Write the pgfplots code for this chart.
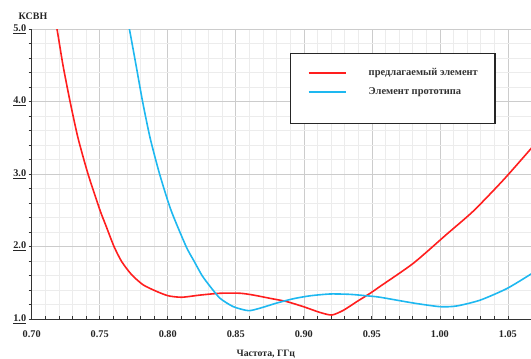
\documentclass[border=0pt]{standalone}
\usepackage{fontspec}
\setmainfont{Liberation Serif}
\usepackage{pgfplots}
\pgfplotsset{compat=1.18}
\definecolor{cred}{HTML}{FF1E1E}
\definecolor{cblue}{HTML}{1EB8F0}
\begin{document}
\begin{tikzpicture}
\begin{axis}[
  scale only axis, width=499.3bp, height=290bp,
  xmin=0.7, xmax=1.067, ymin=1, ymax=5,
  axis x line=bottom, axis y line=left,
  axis line style={-, line width=0.9bp, black!80},
  xtick={0.70,0.75,0.80,0.85,0.90,0.95,1.00,1.05},
  ytick={1,2,3,4,5},
  minor x tick num=4, minor y tick num=4,
  grid=both,
  major grid style={gray!40, line width=0.6bp},
  minor grid style={gray!15, line width=0.6bp},
  tick align=inside, major tick length=3bp, minor tick length=3bp,
  tick style={black!80, line width=0.7bp},
  y tick style={xshift=-3bp},
  /pgf/number format/assume math mode=true,
  xticklabel={\pgfmathprintnumber[fixed,fixed zerofill,precision=2]{\tick}},
  yticklabel={\underline{\pgfmathprintnumber[fixed,fixed zerofill,precision=1]{\tick}}},
  tick label style={font=\bfseries\fontsize{10.3}{12}\selectfont, text=black!85},
  xticklabel style={yshift=-8bp},
  yticklabel style={xshift=-2bp},
  xlabel={Частота, ГГц},
  xlabel style={at={(rel axis cs:0.469,0)}, anchor=base, yshift=-37bp, inner sep=0pt,
    font=\bfseries\fontsize{9.8}{11}\selectfont, text=black!85},
  ylabel={КСВН},
  ylabel style={rotate=-90, at={(rel axis cs:0,1)}, anchor=base, yshift=10bp, xshift=1.3bp, inner sep=0pt,
    font=\bfseries\fontsize{10}{12}\selectfont, text=black!85},
  legend style={at={(0.517,0.917)}, anchor=north west, draw=black!85, line width=1.4bp,
    fill=white, inner xsep=17bp, inner ysep=14.5bp, row sep=11bp, column sep=22bp,
    nodes={inner sep=0pt},
    font=\bfseries\fontsize{10.5}{12}\selectfont, text=black!80, cells={anchor=west}},
  legend image code/.code={\draw[#1,line width=2.2bp] (0bp,0bp) -- (37bp,0bp);},
]
\addplot[cred, line width=1.6bp, smooth, tension=0.4] coordinates {
(0.716,5.25) (0.7186,5.0) (0.7230,4.5) (0.7282,4.0) (0.7340,3.5) (0.7414,3.0)
(0.7502,2.5) (0.7543,2.30) (0.7605,2.0) (0.7662,1.79) (0.7735,1.61) (0.782,1.47)
(0.7919,1.38) (0.8004,1.32) (0.8103,1.30) (0.8238,1.33) (0.8385,1.355) (0.8532,1.355)
(0.863,1.33) (0.8752,1.285) (0.8875,1.24) (0.8997,1.17) (0.912,1.09) (0.9206,1.055)
(0.9291,1.12) (0.939,1.24) (0.9488,1.355) (0.9561,1.45) (0.9806,1.77) (1.0051,2.17)
(1.0247,2.49) (1.0468,2.92) (1.067,3.35) (1.070,3.42)
};
\addlegendentry{предлагаемый элемент}
\addplot[cblue, line width=1.6bp, smooth, tension=0.4] coordinates {
(0.769,5.25) (0.7718,5.0) (0.7767,4.5) (0.7815,4.0) (0.7870,3.5) (0.7940,3.0)
(0.8024,2.5) (0.8135,2.0) (0.8193,1.8) (0.8252,1.6) (0.8311,1.45) (0.8385,1.285)
(0.8482,1.17) (0.8593,1.115) (0.8679,1.15) (0.8801,1.22) (0.8924,1.28) (0.9046,1.32)
(0.9193,1.345) (0.934,1.34) (0.9463,1.32) (0.9561,1.30) (0.9806,1.22) (1.0002,1.17)
(1.0125,1.18) (1.0296,1.26) (1.0493,1.42) (1.067,1.62) (1.070,1.66)
};
\addlegendentry{Элемент прототипа}
\addlegendimage{empty legend}
\addlegendentry{}
\end{axis}
\pgfresetboundingbox
\useasboundingbox (-31.7bp,-40bp) rectangle (499.3bp,319bp);
\end{tikzpicture}
\end{document}
